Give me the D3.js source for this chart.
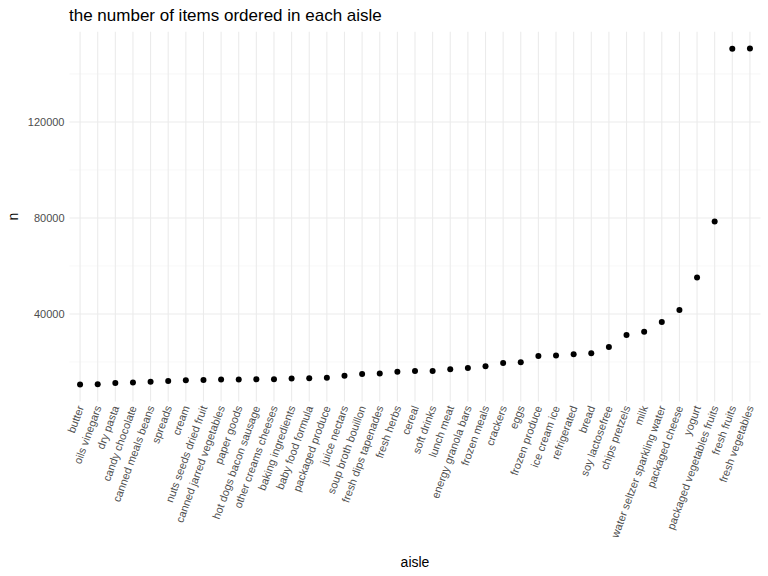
<!DOCTYPE html><html><head><meta charset="utf-8"><script src="https://cdn.jsdelivr.net/npm/d3@7"></script>
<style>body{margin:0;background:#fff}text{font-family:"Liberation Sans",Arial,sans-serif}</style></head><body>
<svg id="c" width="768" height="576"></svg>
<script>
const aisles=["butter","oils vinegars","dry pasta","candy chocolate","canned meals beans","spreads","cream","nuts seeds dried fruit","canned jarred vegetables","paper goods","hot dogs bacon sausage","other creams cheeses","baking ingredients","baby food formula","packaged produce","juice nectars","soup broth bouillon","fresh dips tapenades","fresh herbs","cereal","soft drinks","lunch meat","energy granola bars","frozen meals","crackers","eggs","frozen produce","ice cream ice","refrigerated","bread","soy lactosefree","chips pretzels","milk","water seltzer sparkling water","packaged cheese","yogurt","packaged vegetables fruits","fresh fruits","fresh vegetables"];
const counts=[10575,10713,11201,11453,11774,12102,12357,12532,12679,12694,12760,12820,13088,13198,13460,14270,15017,15151,15951,16201,16279,16957,17449,18221,19592,19875,22453,22676,23228,23635,26240,31269,32644,36617,41699,55240,78493,150473,150609];
const majorTicks=[40000,80000,120000];
const minorTicks=[20000,60000,100000,140000];
const svg=d3.select("#c");
const L=69.5,R=760.5,T=31.7,B=401.4;
const x=d3.scalePoint().domain(aisles).range([L,R]).padding(0.6);
const ymin=d3.min(counts),ymax=d3.max(counts),e=(ymax-ymin)*0.05;
const y=d3.scaleLinear().domain([ymin-e,ymax+e]).range([B,T]);
const g=svg.append("g");
g.selectAll(".mn").data(minorTicks).join("line").attr("x1",L).attr("x2",R).attr("y1",d=>y(d)).attr("y2",d=>y(d)).attr("stroke","#f2f2f2").attr("stroke-width",0.6);
g.selectAll(".mj").data(majorTicks).join("line").attr("x1",L).attr("x2",R).attr("y1",d=>y(d)).attr("y2",d=>y(d)).attr("stroke","#ebebeb").attr("stroke-width",1.1);
g.selectAll(".vx").data(aisles).join("line").attr("x1",d=>x(d)).attr("x2",d=>x(d)).attr("y1",T).attr("y2",B).attr("stroke","#ebebeb").attr("stroke-width",1.1);
g.selectAll("circle").data(aisles).join("circle").attr("cx",d=>x(d)).attr("cy",(d,i)=>y(counts[i])).attr("r",3).attr("fill","#000");
svg.selectAll(".yl").data(majorTicks).join("text").attr("x",L-5).attr("y",d=>y(d)).attr("dy","0.35em").attr("text-anchor","end").attr("font-size",11).attr("fill","#4d4d4d").text(d=>d);
svg.selectAll(".xl").data(aisles).join("text").attr("transform",d=>`translate(${x(d)+4},${B+6}) rotate(-70)`).attr("text-anchor","end").attr("font-size",11).attr("fill","#4d4d4d").text(d=>d);
svg.append("text").attr("x",69).attr("y",21).attr("font-size",17).attr("fill","#000").text("the number of items ordered in each aisle");
svg.append("text").attr("x",(L+R)/2).attr("y",567).attr("text-anchor","middle").attr("font-size",14).text("aisle");
svg.append("text").attr("transform",`translate(18,${(T+B)/2}) rotate(-90)`).attr("text-anchor","middle").attr("font-size",14).text("n");
</script></body></html>
